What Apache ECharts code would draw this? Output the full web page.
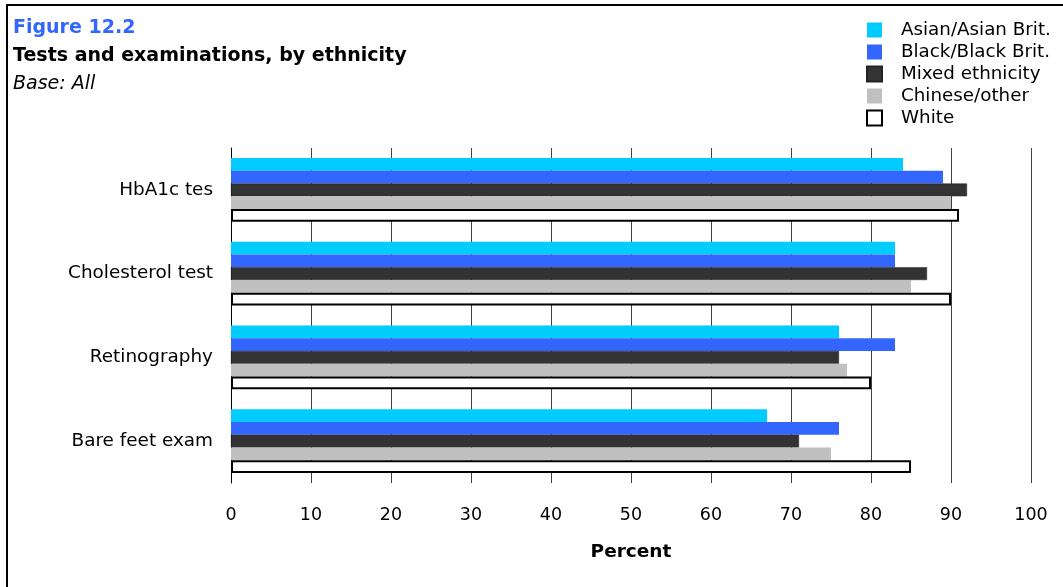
<!DOCTYPE html>
<html>
<head>
<meta charset="utf-8">
<script src="https://cdn.jsdelivr.net/npm/echarts@6/dist/echarts.min.js"></script>
<style>
  html, body { margin: 0; padding: 0; background: #ffffff; }
  #chart { width: 1063px; height: 587px; }
</style>
</head>
<body>
<div id="chart"></div>
<script>
// Tests and examinations received, percentage by ethnic group
const categories = ['HbA1c tes', 'Cholesterol test', 'Retinography', 'Bare feet exam'];
const asian   = [84, 83, 76, 67];
const black   = [89, 83, 83, 76];
const mixed   = [92, 87, 76, 71];
const chinese = [90, 85, 77, 75];
const white   = [91, 90, 80, 85];
const xTicks  = [0, 10, 20, 30, 40, 50, 60, 70, 80, 90, 100];

const FONT = 'DejaVu Sans';

function bar(name, data, color, border, borderWidth) {
  return {
    name: name,
    type: 'bar',
    data: data,
    barGap: '0%',
    barCategoryGap: '23.6%',
    itemStyle: { color: color, borderColor: border, borderWidth: borderWidth },
    emphasis: { disabled: true },
    animation: false
  };
}

const chart = echarts.init(document.getElementById('chart'), null, { renderer: 'canvas' });
chart.setOption({
  backgroundColor: '#ffffff',
  animation: false,
  title: [
    { text: 'Figure 12.2', left: 13, top: 18, padding: 0,
      textStyle: { fontFamily: FONT, fontSize: 19, fontWeight: 'bold', color: '#3366FF', lineHeight: 20 } },
    { text: 'Tests and examinations, by ethnicity', left: 13, top: 46, padding: 0,
      textStyle: { fontFamily: FONT, fontSize: 19, fontWeight: 'bold', color: '#000000', lineHeight: 20 } },
    { text: 'Base: All', left: 13, top: 74, padding: 0,
      textStyle: { fontFamily: FONT, fontSize: 19, fontWeight: 'normal', fontStyle: 'italic', color: '#000000', lineHeight: 20 } }
  ],
  legend: {
    orient: 'vertical',
    left: 866,
    top: 21,
    padding: 0,
    itemWidth: 15,
    itemHeight: 15,
    itemGap: 4,
    icon: 'rect',
    selectedMode: false,
    textStyle: { fontFamily: FONT, fontSize: 18.3, color: '#000000', lineHeight: 15, padding: [0, 0, 0, 14] },
    data: ['Asian/Asian Brit.', 'Black/Black Brit.', 'Mixed ethnicity', 'Chinese/other', 'White']
  },
  grid: { left: 231, right: 32, top: 148, bottom: 104, containLabel: false },
  xAxis: {
    type: 'value',
    min: xTicks[0],
    max: xTicks[xTicks.length - 1],
    interval: 10,
    name: 'Percent',
    nameLocation: 'middle',
    nameGap: 60,
    nameTextStyle: { fontFamily: FONT, fontSize: 18.5, fontWeight: 'bold', color: '#000000' },
    axisLine: { show: false },
    axisTick: { show: false },
    axisLabel: { fontFamily: FONT, fontSize: 17.5, color: '#000000', margin: 23 },
    splitLine: { show: true, lineStyle: { color: '#404040', width: 1 } }
  },
  yAxis: {
    type: 'category',
    data: categories,
    inverse: true,
    axisLine: { show: true, lineStyle: { color: '#000000', width: 1 } },
    axisTick: { show: false },
    axisLabel: { fontFamily: FONT, fontSize: 18.4, color: '#000000', margin: 18 },
    splitLine: { show: false }
  },
  series: [
    bar('Asian/Asian Brit.', asian, '#00CCFF', '#00CCFF', 0),
    bar('Black/Black Brit.', black, '#3366FF', '#3366FF', 0),
    bar('Mixed ethnicity', mixed, '#333333', '#222222', 0.5),
    bar('Chinese/other', chinese, '#C0C0C0', '#C0C0C0', 0),
    bar('White', white, '#FFFFFF', '#000000', 2)
  ],
  graphic: [
    { type: 'rect', silent: true, z: 100,
      shape: { x: 7, y: 5, width: 1200, height: 800 },
      style: { fill: null, stroke: '#000000', lineWidth: 2 } }
  ]
});
</script>
</body>
</html>
